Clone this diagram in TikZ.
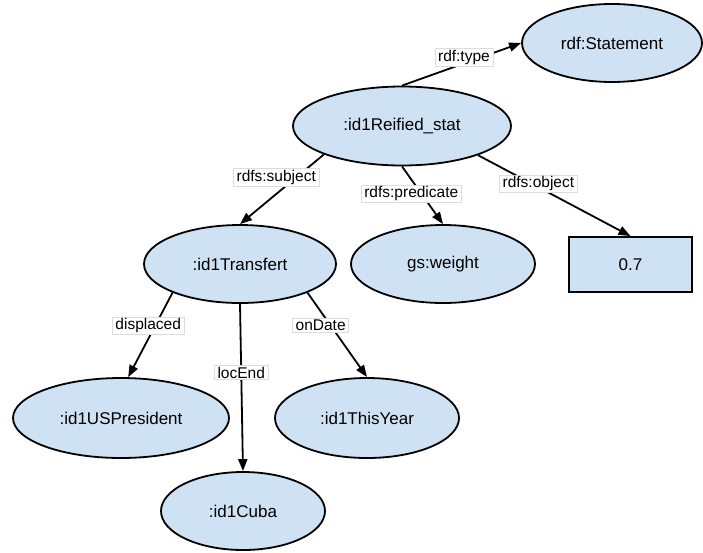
\documentclass[tikz,border=0pt]{standalone}
\usepackage{fontspec}
\setmainfont{Liberation Sans}
\usetikzlibrary{shapes.geometric,arrows.meta}
\definecolor{nodeblue}{HTML}{CFE2F3}
\definecolor{lblgray}{HTML}{DDDDDD}

\begin{document}
\begin{tikzpicture}[x=1pt,y=-1pt,
    res/.style={draw, ellipse, line width=1.8pt, fill=nodeblue, inner sep=0pt, font=\fontsize{17}{20}\selectfont},
    lit/.style={draw, rectangle, line width=1.8pt, fill=nodeblue, minimum width=123pt, minimum height=55pt, font=\fontsize{17}{20}\selectfont},
    lbl/.style={draw=lblgray, line width=0.5pt, fill=white, inner xsep=3pt, inner ysep=1.5pt, font=\fontsize{15.5}{18}\selectfont},
    link/.style={line width=1.8pt, -{Triangle[length=12pt,width=9pt]}}]

    \useasboundingbox (0,0) rectangle (703,552);

    % resources and the literal
    \node[res, minimum width=180pt, minimum height=78pt] at (612,43) (St) {rdf:Statement};
    \node[res, minimum width=218pt, minimum height=79pt] at (402,126) (Re) {:id1Reified\_stat};
    \node[res, minimum width=192pt, minimum height=78pt] at (240,264) (Tr) {:id1Transfert};
    \node[res, minimum width=184pt, minimum height=78pt] at (443,264) (Gw) {gs:weight};
    \node[lit] at (630.5,264.5) (Va) {0.7};
    \node[res, minimum width=216pt, minimum height=80pt] at (121,418) (Us) {:id1USPresident};
    \node[res, minimum width=184pt, minimum height=80pt] at (367,418) (Ty) {:id1ThisYear};
    \node[res, minimum width=164pt, minimum height=78pt] at (243,511) (Cu) {:id1Cuba};

    % from/to/label/pos/xshift/yshift
    \newcommand{\triples}{Re.north/St.west/rdf:type/0.52/0/6,
        Re.200/Tr.north/rdfs:subject/0.33/-20/0,
        Re.south/Gw.north/rdfs:predicate/0.47/-10/0,
        Re.339/Va.north/rdfs:object/0.35/7/0,
        Tr.203/Us.80/displaced/0.39/-7/0,
        Tr.south/Cu.north/locEnd/0.41/0/0,
        Tr.337/Ty.north/onDate/0.39/-10/0}
    \foreach \a/\b/\lab/\p/\dx/\dy in \triples
    {
        \path[link] (\a) edge node[lbl, pos=\p, xshift=\dx pt, yshift=\dy pt] {\lab} (\b);
    }

\end{tikzpicture}
\end{document}
